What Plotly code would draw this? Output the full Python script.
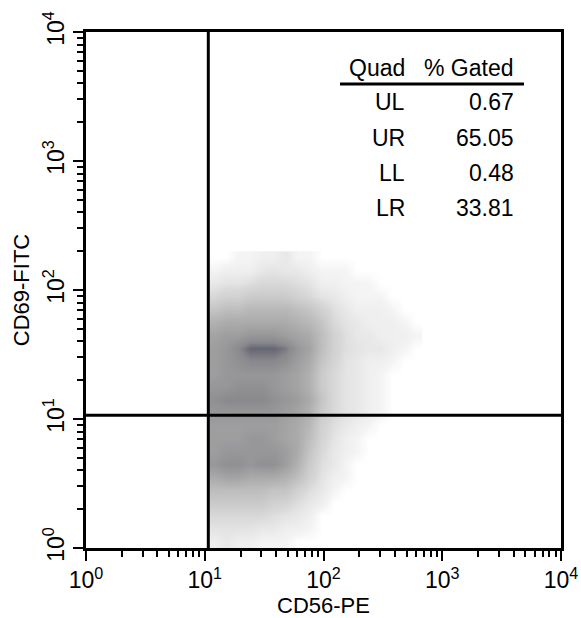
import plotly.graph_objects as go

# log10 bin centres of the estimated event-density grid (CD56-PE on x, CD69-FITC on y)
x_log_centres = [1.08, 1.18, 1.28, 1.38, 1.48, 1.58, 1.68, 1.78, 1.88, 1.98,
                 2.08, 2.18, 2.28, 2.38, 2.48, 2.58, 2.68, 2.78]
y_log_centres = [0.05, 0.15, 0.25, 0.35, 0.45, 0.55, 0.65, 0.75, 0.85, 0.95,
                 1.05, 1.15, 1.25, 1.35, 1.45, 1.55, 1.65, 1.75, 1.85, 1.95,
                 2.05, 2.15, 2.25]
# relative event density (0-10), rows bottom->top
density = [
    [0.5, 0.8, 0.5, 0.5, 0.3, 0.3, 0.3, 0, 0, 0, 0, 0, 0, 0, 0, 0, 0, 0],
    [1, 1, 1, 1, 0.8, 0.8, 0.5, 0.5, 0.3, 0, 0, 0, 0, 0, 0, 0, 0, 0],
    [1.5, 1.5, 1.5, 1.5, 1.5, 1.2, 1, 0.8, 0.5, 0, 0, 0, 0, 0, 0, 0, 0, 0],
    [2.5, 2.5, 2.5, 2.5, 2.5, 2, 1.8, 1.2, 0.8, 0.5, 0, 0, 0, 0, 0, 0, 0, 0],
    [3.5, 3.5, 3.5, 3.5, 3.5, 3, 3, 2, 1.2, 0.8, 0.3, 0, 0, 0, 0, 0, 0, 0],
    [5, 5.5, 5.5, 5, 5, 5, 4.5, 3.5, 2, 1, 0.5, 0.3, 0, 0, 0, 0, 0, 0],
    [6.5, 7, 7, 6.5, 7, 7, 6, 4.5, 2.5, 1.2, 0.8, 0.3, 0, 0, 0, 0, 0, 0],
    [6, 6.5, 6.5, 6.5, 6.5, 6.5, 6, 5, 3, 1.5, 0.8, 0.5, 0.3, 0, 0, 0, 0, 0],
    [6, 6, 6, 6.5, 6.5, 6, 5.5, 5, 3.5, 1.8, 1, 0.5, 0.3, 0, 0, 0, 0, 0],
    [6, 6, 6, 6, 6, 6, 5.5, 5, 4, 2, 1.2, 0.8, 0.5, 0.3, 0, 0, 0, 0],
    [6.5, 6.5, 6.5, 6.5, 6.5, 6.5, 6, 5.5, 4.5, 2.5, 1.5, 1, 0.8, 0.5, 0.3, 0, 0, 0],
    [7, 7.5, 7.5, 7.5, 7.5, 7, 6.5, 6, 5, 3, 1.5, 1, 0.8, 0.5, 0.3, 0, 0, 0],
    [6.5, 6.5, 7, 7, 7, 6.5, 6, 5.5, 4.5, 2.5, 1.5, 1, 0.8, 0.5, 0.3, 0, 0, 0],
    [6, 6.5, 6.5, 6.5, 6.5, 6.5, 6, 5.5, 4.5, 2.5, 1.5, 1, 0.8, 0.5, 0.3, 0, 0, 0],
    [6, 6.5, 7, 7.5, 7.5, 7.5, 7, 6, 5, 3, 1.8, 1, 0.8, 0.5, 0.5, 0.3, 0, 0],
    [6, 6.5, 7.5, 8.5, 8.5, 8.5, 8, 6.5, 5.5, 3.5, 2, 1.2, 1, 0.8, 0.8, 0.5, 0.3, 0],
    [5.5, 6, 6, 6.5, 6.5, 6.5, 6, 5.5, 5, 3.5, 2, 1.2, 0.8, 0.8, 0.5, 0.5, 0.5, 0.3],
    [4.5, 5, 5, 5, 5, 5, 5, 4.5, 4, 3, 1.5, 1, 0.8, 0.5, 0.5, 0.5, 0.3, 0],
    [3, 3.5, 3.5, 4, 4, 4, 4, 3.5, 3, 2, 1.2, 0.8, 0.5, 0.5, 0.5, 0.3, 0, 0],
    [1.5, 2, 2, 2.5, 2.5, 2.5, 2.5, 2, 1.5, 1, 0.8, 0.5, 0.3, 0.3, 0.3, 0, 0, 0],
    [0.8, 1, 1, 1.2, 1.5, 1.5, 1.5, 1.2, 1, 0.5, 0.5, 0.3, 0.3, 0.3, 0, 0, 0, 0],
    [0.3, 0.5, 0.5, 0.5, 0.8, 1, 0.8, 0.8, 0.5, 0.3, 0.3, 0.3, 0, 0, 0, 0, 0, 0],
    [0, 0, 0.3, 0.3, 0.5, 0.5, 0.8, 0.3, 0.3, 0, 0, 0, 0, 0, 0, 0, 0, 0],
]

# quadrant gate (log10 units)
gate_x_log = 1.03
gate_y_log = 1.03

decade_vals = [0, 1, 2, 3, 4]
decade_text = ["10<sup>0</sup>", "10<sup>1</sup>", "10<sup>2</sup>",
               "10<sup>3</sup>", "10<sup>4</sup>"]
minor_vals = [0.30103, 0.47712, 0.60206, 0.69897, 0.77815, 0.84510, 0.90309, 0.95424]

quads = ["UL", "UR", "LL", "LR"]
gated = ["0.67", "65.05", "0.48", "33.81"]

minor_all = [d + m for d in range(4) for m in minor_vals]

FONT = "Liberation Sans, Arial, Helvetica, sans-serif"

fig = go.Figure()
fig.add_trace(go.Heatmap(
    x=x_log_centres, y=y_log_centres, z=density,
    zmin=0, zmax=10, zsmooth="best", showscale=False, hoverinfo="skip",
    colorscale=[[0, "#ffffff"], [0.03, "#f4f4f4"], [0.15, "#d8d8d8"],
                [0.5, "#ababab"], [0.75, "#8a8a8e"], [0.9, "#555566"], [1, "#2c2c40"]],
))

axis_common = dict(
    range=[0, 4], tickmode="array", tickvals=decade_vals, ticktext=decade_text,
    ticks="outside", ticklen=10, tickwidth=2, tickcolor="black",
    showline=True, linewidth=2.5, linecolor="black", mirror=True,
    showgrid=False, zeroline=False, automargin=False, ticklabeloverflow="allow",
    tickfont=dict(family=FONT, size=23, color="black"),
    minor=dict(tickmode="array", tickvals=minor_all, ticks="outside",
               ticklen=6, tickwidth=1.5, tickcolor="black", showgrid=False),
)

fig.update_layout(
    width=581, height=618,
    margin=dict(l=86, r=20, t=32, b=70),
    paper_bgcolor="white", plot_bgcolor="white",
    showlegend=False,
    xaxis=dict(**axis_common,
               title=dict(text="CD56-PE", standoff=4,
                          font=dict(family=FONT, size=22, color="black"))),
    yaxis=dict(**axis_common, tickangle=-90,
               title=dict(text="CD69-FITC", standoff=4,
                          font=dict(family=FONT, size=22, color="black"))),
)

# quadrant lines
fig.add_shape(type="line", xref="x", yref="paper", x0=gate_x_log, x1=gate_x_log,
              y0=0, y1=1, line=dict(color="black", width=3))
fig.add_shape(type="line", xref="paper", yref="y", x0=0, x1=1,
              y0=gate_y_log, y1=gate_y_log, line=dict(color="black", width=3))

# statistics table
tf = dict(family=FONT, size=23, color="black")
PW = 581 - 86 - 20
PH = 618 - 32 - 70
fig.add_annotation(xref="paper", yref="paper", x=(407 - 86) / PW, y=(548 - 68) / PH,
                   text="Quad", showarrow=False, xanchor="right", yanchor="middle", font=tf)
fig.add_annotation(xref="paper", yref="paper", x=(516 - 86) / PW, y=(548 - 68) / PH,
                   text="% Gated", showarrow=False, xanchor="right", yanchor="middle", font=tf)
fig.add_shape(type="line", xref="paper", yref="paper",
              x0=(340 - 86) / PW, x1=(524 - 86) / PW,
              y0=(548 - 84) / PH, y1=(548 - 84) / PH,
              line=dict(color="black", width=3))
row_y = [102, 138, 173, 208]
for q, g, ry in zip(quads, gated, row_y):
    fig.add_annotation(xref="paper", yref="paper", x=(407 - 86) / PW, y=(548 - ry) / PH,
                       text=q, showarrow=False, xanchor="right", yanchor="middle", font=tf)
    fig.add_annotation(xref="paper", yref="paper", x=(516 - 86) / PW, y=(548 - ry) / PH,
                       text=g, showarrow=False, xanchor="right", yanchor="middle", font=tf)

fig.write_html("out.html")
